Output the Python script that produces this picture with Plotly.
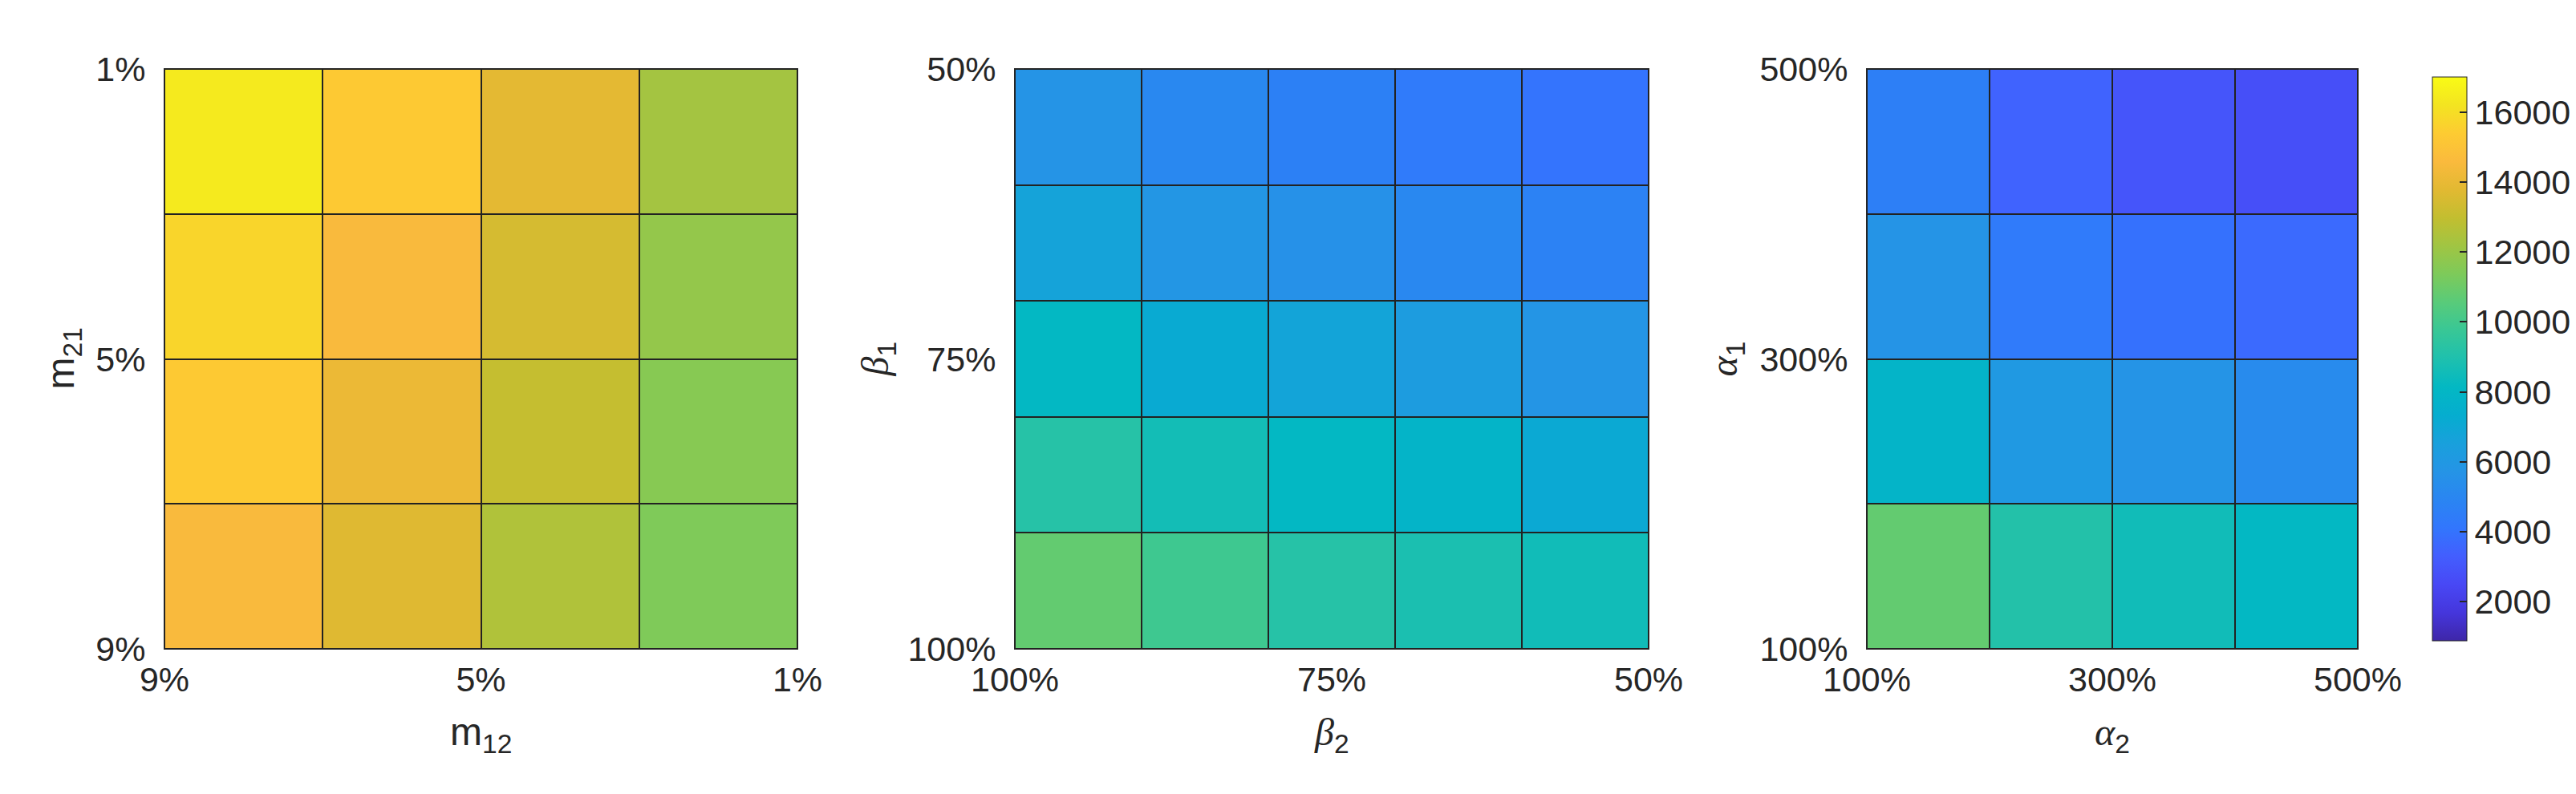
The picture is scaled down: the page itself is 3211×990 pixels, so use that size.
import plotly.graph_objects as go

# cell edges (pcolor style: n+1 nodes for n cells)
m12_edges = [9, 7, 5, 3, 1]
m21_edges = [1, 3, 5, 7, 9]
beta2_edges = [100, 90, 80, 70, 60, 50]
beta1_edges = [50, 60, 70, 80, 90, 100]
alpha2_edges = [100, 200, 300, 400, 500]
alpha1_edges = [500, 400, 300, 200, 100]

# values, row 0 = top row as drawn
z_m = [
    [16400, 15300, 13850, 12250],
    [15700, 14550, 13450, 11900],
    [15300, 14100, 13050, 11600],
    [14550, 13700, 12550, 11400],
]
z_beta = [
    [5720, 5070, 4670, 4350, 4030],
    [6690, 5880, 5560, 5070, 4750],
    [8140, 7170, 6770, 6280, 5800],
    [9180, 8620, 8140, 7810, 7090],
    [10800, 9910, 9180, 8860, 8540],
]
z_alpha = [
    [4590, 3460, 2980, 2740],
    [5720, 4350, 3950, 3700],
    [7810, 6040, 5720, 5240],
    [10800, 9100, 8540, 8140],
]

m_ticks = [9, 5, 1]
beta_ticks = [100, 75, 50]
alpha_ticks = [100, 300, 500]
cbar_ticks = [2000, 4000, 6000, 8000, 10000, 12000, 14000, 16000]
cmin, cmax = 885, 17000

# approx. MATLAB parula
parula = [
    [0.00, "rgb(62,38,168)"],
    [0.05, "rgb(69,54,220)"],
    [0.10, "rgb(72,72,245)"],
    [0.15, "rgb(67,94,254)"],
    [0.20, "rgb(50,118,253)"],
    [0.25, "rgb(42,133,242)"],
    [0.30, "rgb(37,148,230)"],
    [0.35, "rgb(25,160,220)"],
    [0.40, "rgb(5,173,207)"],
    [0.45, "rgb(3,184,195)"],
    [0.50, "rgb(30,192,174)"],
    [0.55, "rgb(56,199,150)"],
    [0.60, "rgb(88,203,122)"],
    [0.65, "rgb(125,202,90)"],
    [0.70, "rgb(160,197,67)"],
    [0.75, "rgb(194,190,48)"],
    [0.80, "rgb(226,185,50)"],
    [0.85, "rgb(250,186,61)"],
    [0.90, "rgb(253,203,50)"],
    [0.95, "rgb(243,228,33)"],
    [1.00, "rgb(249,251,21)"],
]

W, H = 3211, 990
FONT = "Liberation Sans, Arial, sans-serif"
TXT = "#262626"
GREEK = "font-family:'Liberation Serif',serif"

def px(v):
    return v / W

def py(v):
    return 1 - v / H

top, bottom = 78, 801
doms = [(197, 986), (1257, 2047), (2319, 2931)]

fig = go.Figure()
data = [
    (m12_edges, m21_edges, z_m),
    (beta2_edges, beta1_edges, z_beta),
    (alpha2_edges, alpha1_edges, z_alpha),
]
for i, (xe, ye, z) in enumerate(data):
    s = "" if i == 0 else str(i + 1)
    fig.add_trace(go.Heatmap(
        x=xe, y=ye, z=z, coloraxis="coloraxis",
        xgap=2, ygap=2, hoverinfo="skip",
        xaxis="x" + s, yaxis="y" + s,
    ))

axis_common = dict(
    showgrid=False, zeroline=False, showline=True, mirror=True,
    linecolor=TXT, linewidth=1, ticks="", tickmode="array",
    tickfont=dict(family=FONT, size=43, color=TXT),
)
ranges = [
    ([9, 1], [9, 1], m_ticks),
    ([100, 50], [100, 50], beta_ticks),
    ([100, 500], [100, 500], alpha_ticks),
]
layout = {}
for i, ((x0, x1), (xr, yr, tv)) in enumerate(zip(doms, ranges)):
    s = "" if i == 0 else str(i + 1)
    tt = [f"{v}%" for v in tv]
    layout["xaxis" + s] = dict(
        axis_common, domain=[px(x0), px(x1)], range=xr,
        tickvals=tv, ticktext=tt, anchor="y" + s, ticklabelstandoff=0,
    )
    layout["yaxis" + s] = dict(
        axis_common, domain=[py(bottom), py(top)], range=yr,
        tickvals=tv, ticktext=tt, anchor="x" + s, ticklabelstandoff=14,
    )

fig.update_layout(**layout)

titles = [
    # x titles
    (591.5, 908, "m<sub>12</sub>", 0),
    (1652, 908, f"<span style=\"{GREEK}\"><i>β</i></span><sub>2</sub>", 0),
    (2625, 908, f"<span style=\"{GREEK}\"><i>α</i></span><sub>2</sub>", 0),
    # y titles
    (70, 439.5, "m<sub>21</sub>", -90),
    (1085, 439.5, f"<span style=\"{GREEK}\"><i>β</i></span><sub>1</sub>", -90),
    (2143, 439.5, f"<span style=\"{GREEK}\"><i>α</i></span><sub>1</sub>", -90),
]
for x, y, t, ang in titles:
    fig.add_annotation(
        x=px(x), y=py(y), xref="paper", yref="paper", text=t,
        showarrow=False, textangle=ang, xanchor="center", yanchor="middle",
        font=dict(family=FONT, size=48, color=TXT),
    )

fig.update_layout(
    width=W, height=H,
    margin=dict(l=0, r=0, t=0, b=0, autoexpand=False),
    paper_bgcolor="white", plot_bgcolor="#222222",
    coloraxis=dict(
        colorscale=parula, cmin=cmin, cmax=cmax,
        colorbar=dict(
            x=px(3014), xanchor="left", y=py(top), yanchor="top",
            thickness=43, thicknessmode="pixels",
            len=bottom - top, lenmode="pixels",
            outlinewidth=1, outlinecolor=TXT,
            tickmode="array", tickvals=cbar_ticks,
            ticktext=[str(v) for v in cbar_ticks],
            ticks="inside", ticklen=9, tickcolor=TXT, tickwidth=1.5,
            tickfont=dict(family=FONT, size=43, color=TXT),
        ),
    ),
)

fig.write_html("out.html")
